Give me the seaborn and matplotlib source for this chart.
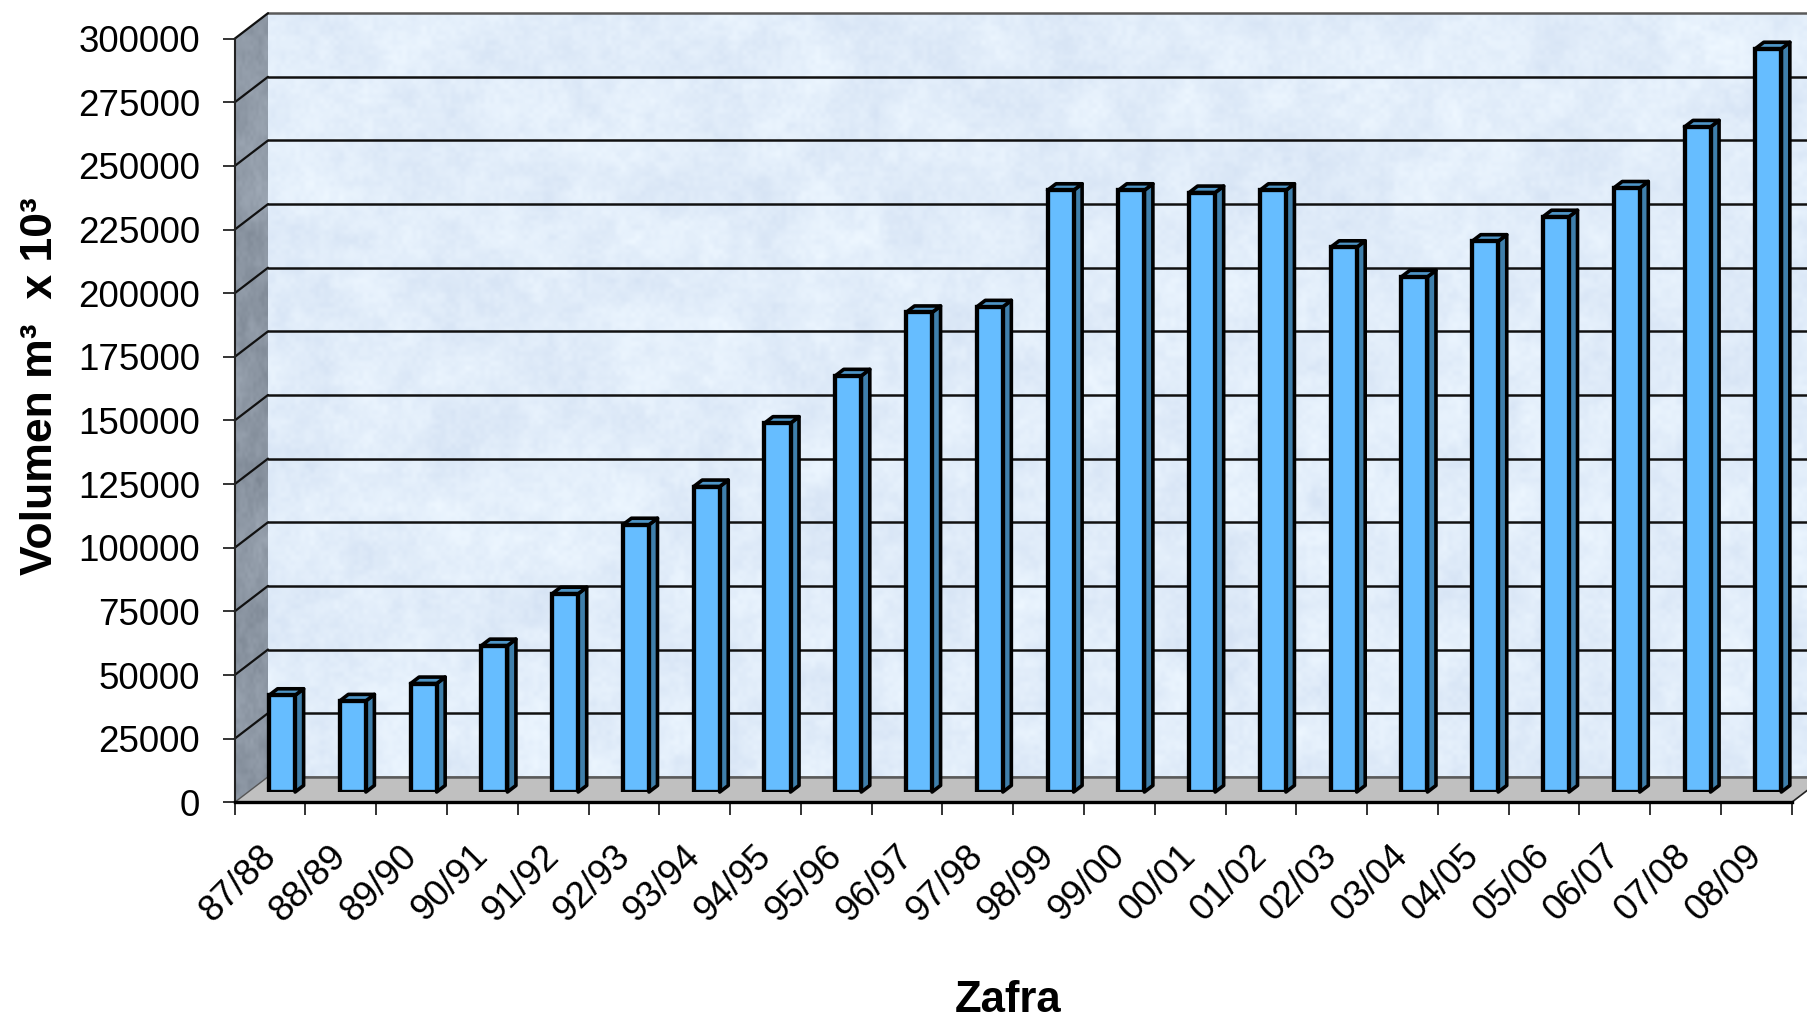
import numpy as np
import pandas as pd
import matplotlib
matplotlib.use('Agg')
import matplotlib.pyplot as plt
import seaborn as sns
from matplotlib.patches import Polygon

# values
zafras = ['87/88', '88/89', '89/90', '90/91', '91/92', '92/93', '93/94', '94/95',
          '95/96', '96/97', '97/98', '98/99', '99/00', '00/01', '01/02', '02/03',
          '03/04', '04/05', '05/06', '06/07', '07/08', '08/09']
volumen = [38000, 35800, 42600, 57500, 77900, 105000, 120000, 144900,
           163500, 188400, 190600, 236400, 236400, 235500, 236400, 214000,
           202400, 216400, 226000, 237300, 261300, 292000]
yticks = list(range(0, 300001, 25000))

df = pd.DataFrame({'Zafra': zafras, 'Volumen': volumen})

sns.set_theme(style='white')
plt.rcParams['font.family'] = ['Liberation Sans', 'DejaVu Sans']

W, H = 1807, 1022
fig = plt.figure(figsize=(W / 100, H / 100), dpi=100, facecolor='white')

# front plane of the fake 3D box, in pixels from top left
X0, X1, Y_TOP, Y_BOT = 234.7, 1791.7, 38.7, 802.3
WALL_DX, WALL_DY = 33.3, 25.5   # back wall offset
BAR_DX, BAR_DY = 12.0, 10.3     # bars stand a bit behind the front plane
SIDE_DX, SIDE_DY = 8.5, 6.5     # depth of each bar


def box(dx, dy):
    # axes rectangle shifted right and up by some pixels
    return [(X0 + dx) / W, (H - Y_BOT + dy) / H, (X1 - X0) / W, (Y_BOT - Y_TOP) / H]


def blotches(nx, ny, cx, cy, seed):
    # smooth value noise from a hashed coarse grid, only for the wall paper
    i, j = np.meshgrid(np.arange(cx + 2), np.arange(cy + 2))
    g = np.sin(i * 12.9898 + j * 78.233 + seed) * 43758.5453
    g = g - np.floor(g)
    x = np.linspace(0, cx, nx)
    y = np.linspace(0, cy, ny)
    xi, yi = x.astype(int), y.astype(int)
    fx, fy = x - xi, y - yi
    fx = fx * fx * (3 - 2 * fx)
    fy = (fy * fy * (3 - 2 * fy))[:, None]
    row0 = g[yi][:, xi] * (1 - fx) + g[yi][:, xi + 1] * fx
    row1 = g[yi + 1][:, xi] * (1 - fx) + g[yi + 1][:, xi + 1] * fx
    return row0 * (1 - fy) + row1 * fy - 0.5


def add_axes(dx, dy):
    a = fig.add_axes(box(dx, dy))
    a.set_xlim(-0.5, len(zafras) - 0.5)
    a.set_ylim(0, yticks[-1])
    a.patch.set_visible(False)
    return a


# conversion from pixels to data units
px_x = (len(zafras)) / (X1 - X0)
px_y = yticks[-1] / (Y_BOT - Y_TOP)

# back wall
ax_wall = add_axes(WALL_DX, WALL_DY)
noise = (blotches(1560, 765, 34, 17, 1.0) + 0.7 * blotches(1560, 765, 110, 54, 2.0)
         + 0.55 * blotches(1560, 765, 320, 157, 3.0))
noise = noise / np.abs(noise).max()
base = np.array([0.885, 0.930, 0.980])
tex = base[None, None, :] + noise[:, :, None] * np.array([0.048, 0.04, 0.022])
ax_wall.imshow(np.clip(tex, 0, 1), extent=(-0.5, len(zafras) - 0.5, 0, yticks[-1]),
               aspect='auto', interpolation='bilinear', zorder=0)
for t in yticks:
    col = '#111111' if 0 < t < yticks[-1] else '#5a5a5a'
    ax_wall.axhline(t, color=col, lw=1.8, clip_on=False, zorder=1)
ax_wall.axis('off')

# slanted side wall, its own axes over the gap between front plane and wall
ax_side = fig.add_axes([X0 / W, (H - Y_BOT) / H, WALL_DX / W, (Y_BOT - Y_TOP + WALL_DY) / H])
ax_side.set_xlim(0, 1)
ax_side.set_ylim(0, yticks[-1] + WALL_DY * px_y)
ax_side.axis('off')
top = yticks[-1] + WALL_DY * px_y
side = Polygon([(0, 0), (1, WALL_DY * px_y), (1, top), (0, yticks[-1])], closed=True,
               transform=ax_side.transData, facecolor='none', edgecolor='none')
ax_side.add_patch(side)
side_tex = np.array([0.56, 0.60, 0.65])[None, None, :] + noise[:, :, None] * np.array([0.07, 0.07, 0.07])
im = ax_side.imshow(np.clip(side_tex[:, :60], 0, 1), extent=(0, 1, 0, top), aspect='auto',
                    interpolation='bilinear')
im.set_clip_path(side)

# front plane: axes, ticks and floor
ax = add_axes(0, 0)
dxw, dyw = WALL_DX * px_x, WALL_DY * px_y
end = len(zafras) - 0.5
ax.add_patch(Polygon([(-0.5, 0), (end, 0), (end + dxw, dyw), (-0.5 + dxw, dyw)], closed=True,
                     facecolor='#c0c0c0', edgecolor='none', clip_on=False, zorder=2))
for t in yticks[1:]:
    ax.plot([-0.5, -0.5 + dxw], [t, t + dyw], color='#111111', lw=1.6, clip_on=False, zorder=2)
ax.plot([-0.5, -0.5 + dxw], [0, dyw], color='#555555', lw=1.0, clip_on=False, zorder=2)
ax.plot([end, end + dxw], [0, dyw], color='#222222', lw=1.2, clip_on=False, zorder=2)
ax.plot([-0.5 + dxw, end + dxw], [dyw, dyw], color='#5a5a5a', lw=1.8, clip_on=False, zorder=2)

ax.set_yticks(yticks)
ax.set_yticklabels([str(t) for t in yticks])
ax.set_xticks(np.arange(len(zafras) + 1) - 0.5)
ax.set_xticklabels([])
# labels are hung a little to the left of the slot centre
ax.set_xticks(np.arange(len(zafras)) - 0.17, labels=zafras, minor=True)
ax.tick_params(axis='y', left=True, length=9, width=1.2, color='#111111', pad=16,
               labelsize=26.5, labelcolor='black')
ax.tick_params(axis='x', which='major', bottom=True, length=9, width=1.2, color='#111111')
ax.tick_params(axis='x', which='minor', bottom=False, length=0, pad=26, labelsize=26.5,
               labelcolor='black')
for lab in ax.get_xticklabels(minor=True):
    lab.set_rotation(45)
    lab.set_ha('right')
    lab.set_va('top')
    lab.set_rotation_mode('anchor')
for s in ['top', 'right']:
    ax.spines[s].set_visible(False)
ax.spines['left'].set_color('#222222')
ax.spines['left'].set_linewidth(1.5)
ax.spines['bottom'].set_color('black')
ax.spines['bottom'].set_linewidth(2.4)
ax.spines['bottom'].set_zorder(3)

ax.set_xlabel('Zafra', fontsize=31.5, fontweight='bold', color='black')
ax.xaxis.set_label_coords(0.4967, -0.26)
ax.xaxis.label.set_va('center')
ax.set_ylabel('Volumen m³  x 10³', fontsize=32, fontweight='bold', color='black')
ax.yaxis.set_label_coords(-0.125, 0.545)
ax.yaxis.label.set_va('center')

# bars, on their own axes so that they sit between front plane and wall
ax_bars = add_axes(BAR_DX, BAR_DY)
sns.barplot(data=df, x='Zafra', y='Volumen', color='#66bdff', saturation=1, width=0.368,
            edgecolor='black', linewidth=3.1, ax=ax_bars, zorder=3)
ax_bars.set_xlim(-0.5, len(zafras) - 0.5)
ax_bars.set_ylim(0, yticks[-1])
ax_bars.axis('off')

# side and top faces of every bar
sx, sy = SIDE_DX * px_x, SIDE_DY * px_y
for p in list(ax_bars.patches):
    l, w, h = p.get_x(), p.get_width(), p.get_height()
    r = l + w
    ax_bars.add_patch(Polygon([(r, 0), (r + sx, sy), (r + sx, h + sy), (r, h)], closed=True,
                              facecolor='#3f7fab', edgecolor='black', linewidth=2.6,
                              joinstyle='round', clip_on=False, zorder=2))
    ax_bars.add_patch(Polygon([(l, h), (r, h), (r + sx, h + sy), (l + sx, h + sy)], closed=True,
                              facecolor='#4e95c7', edgecolor='black', linewidth=2.6,
                              joinstyle='round', clip_on=False, zorder=2))

fig.savefig('out.png', dpi=100)
